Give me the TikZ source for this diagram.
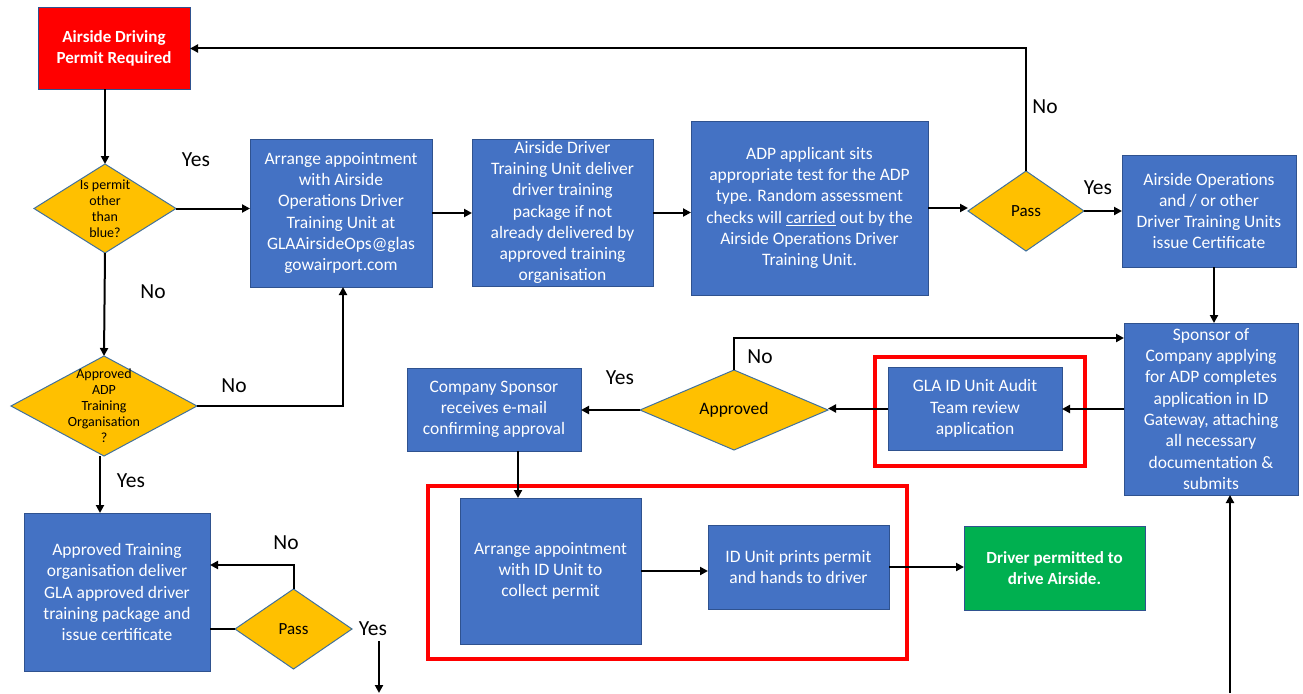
\documentclass[tikz,border=0pt]{standalone}
\usepackage{fontspec}
\setmainfont{Carlito}
\usetikzlibrary{shapes.geometric,arrows.meta}
\definecolor{bblue}{HTML}{4472C4}
\definecolor{bborder}{HTML}{2F528F}
\definecolor{dfill}{HTML}{FFC000}
\definecolor{dborder}{HTML}{41719C}
\definecolor{gfill}{HTML}{00B050}
\definecolor{rfill}{HTML}{FF0000}
\begin{document}
\begin{tikzpicture}[x=1pt,y=-1pt,
  box/.style={draw=bborder, fill=bblue, line width=1pt, text=white, align=center,
    inner sep=0pt, outer sep=0pt, font=\fontsize{17.5}{21.3}\selectfont},
  dia/.style={shape=diamond, draw=dborder, fill=dfill, line width=1pt, inner sep=0pt, outer sep=0pt},
  dtxt/.style={align=center, text=black, inner sep=0pt},
  frame/.style={draw=red, line width=3.5pt, inner sep=0pt, outer sep=0pt},
  lbl/.style={font=\fontsize{21.5}{24}\selectfont, inner sep=0pt, text=black},
  arr/.style={line width=2pt, -{Triangle[width=8pt,length=8pt]}},
  ln/.style={line width=2pt}
]
\useasboundingbox (0,0) rectangle (1303,693);
\fill[white] (0,0) rectangle (1303,693);

% red frames
\node[frame, minimum width=210, minimum height=109] (frF) at (980,411.5) {};
\node[frame, minimum width=479, minimum height=173] (frH) at (667.5,572.5) {};

% boxes
\node[box, fill=rfill, minimum width=152, minimum height=81, font=\bfseries\fontsize{17}{21.5}\selectfont] (red) at (114,48.5) {Airside Driving\\Permit Required};
\node[box, minimum width=182, minimum height=148] (bA) at (341,213) {Arrange appointment\\with Airside\\Operations Driver\\Training Unit at\\GLAAirsideOps@glas\\gowairport.com};
\node[box, minimum width=181, minimum height=147] (bB) at (562.5,212.5) {Airside Driver\\Training Unit deliver\\driver training\\package if not\\already delivered by\\approved training\\organisation};
\node[box, minimum width=237, minimum height=174] (bC) at (809.5,208) {ADP applicant sits\\appropriate test for the ADP\\type. Random assessment\\checks will \underline{carried} out by the\\Airside Operations Driver\\Training Unit.};
\node[box, minimum width=174, minimum height=112] (bD) at (1209,211) {Airside Operations\\and / or other\\Driver Training Units\\issue Certificate};
\node[box, minimum width=174, minimum height=172] (bE) at (1211,409) {Sponsor of\\Company applying\\for ADP completes\\application in ID\\Gateway, attaching\\all necessary\\documentation \&\\submits};
\node[box, minimum width=174, minimum height=83] (bF) at (975,408.5) {GLA ID Unit Audit\\Team review\\application};
\node[box, minimum width=174, minimum height=83] (bG) at (494,409.5) {Company Sponsor\\receives e-mail\\confirming approval};
\node[box, minimum width=181, minimum height=146] (bH) at (550.5,571) {Arrange appointment\\with ID Unit to\\collect permit};
\node[box, minimum width=181, minimum height=84] (bI) at (798.5,567) {ID Unit prints permit\\and hands to driver};
\node[box, fill=gfill, minimum width=181, minimum height=84, font=\bfseries\fontsize{17}{21.5}\selectfont] (bJ) at (1054.5,568) {Driver permitted to\\drive Airside.};
\node[box, minimum width=186, minimum height=158] (bK) at (117,592) {Approved Training\\organisation deliver\\GLA approved driver\\training package and\\issue certificate};

% diamonds
\node[dia, minimum width=142, minimum height=89, label={[dtxt, font=\fontsize{14}{16}\selectfont]center:{Is permit\\other\\than\\blue?}}] (d1) at (105,208.5) {};
\node[dia, minimum width=186, minimum height=100, label={[dtxt, font=\fontsize{14}{16}\selectfont]center:{Approved\\ADP\\Training\\Organisation\\?}}] (d2) at (104,406) {};
\node[dia, minimum width=116, minimum height=80, label={[dtxt, font=\fontsize{17}{19}\selectfont]center:{Pass}}] (pT) at (1026,211) {};
\node[dia, minimum width=188, minimum height=80, label={[dtxt, font=\fontsize{17.5}{20}\selectfont]center:{Approved}}] (ap) at (734,410) {};
\node[dia, minimum width=117, minimum height=80, label={[dtxt, font=\fontsize{17}{19}\selectfont]center:{Pass}}] (pB) at (293.5,629) {};

% free coordinates
\coordinate (eBot) at (1230,693);
\coordinate (ys1) at (379,641);
\coordinate (ys2) at (379,693);

% connectors
\draw[arr] (red.south -| d1.north) -- (d1.north);
\draw[arr] (d1.east) -- (d1.east -| bA.west);
\draw[arr] (d1.south) -- (d2.north);
\draw[arr] (d2.east) -| ([xshift=2pt]bA.south);
\draw[arr] ([xshift=-4pt]d2.south) -- ([xshift=-4pt]d2.south |- bK.north);
\draw[arr] (bA.east) -- (bA.east -| bB.west);
\draw[arr] (bB.east) -- (bB.east -| bC.west);
\draw[arr] (bC.east) -- (bC.east -| pT.west);
\draw[arr] (pT.east) -- (pT.east -| bD.west);
\draw[arr] (pT.north) |- (red.east);
\draw[arr] ([xshift=5pt]bD.south) -- ([xshift=5pt]bD.south |- bE.north);
\draw[arr] (bE.west) -- (bE.west -| bF.east);
\draw[arr] (bF.west) -- (bF.west -| ap.east);
\draw[arr] (ap.west) -- (ap.west -| bG.east);
\draw[arr] (ap.north) |- ([yshift=71pt]bE.west);
\draw[arr] ([xshift=24pt]bG.south) -- ([xshift=24pt]bG.south |- bH.north);
\draw[arr] (bH.east) -- (bH.east -| bI.west);
\draw[arr] (bI.east) -- (bI.east -| bJ.west);
\draw[arr] (eBot) -- (eBot |- bE.south);
\draw[ln] (pB.west -| bK.east) -- (pB.west);
\draw[arr] (pB.north) |- ([yshift=27pt]bK.east);
\draw[arr] (ys1) -- (ys2);

% labels
\node[lbl] (l1) at (196,160) {Yes};
\node[lbl] (l2) at (153,292) {No};
\node[lbl] (l3) at (234,386) {No};
\node[lbl] (l4) at (131,481) {Yes};
\node[lbl] (l5) at (286,543) {No};
\node[lbl] (l6) at (373,629) {Yes};
\node[lbl] (l7) at (1098,188) {Yes};
\node[lbl] (l8) at (1045,107) {No};
\node[lbl] (l9) at (760,357) {No};
\node[lbl] (l10) at (620,378) {Yes};
\end{tikzpicture}
\end{document}
